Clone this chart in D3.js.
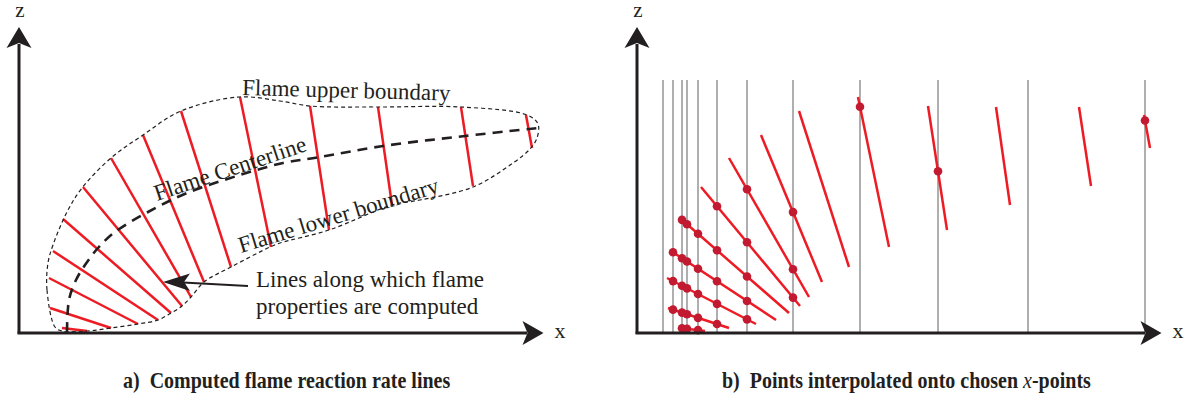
<!DOCTYPE html>
<html>
<head>
<meta charset="utf-8">
<script src="https://cdn.jsdelivr.net/npm/d3@7"></script>
<style>
body{margin:0;background:#fff;}
svg{display:block;}
text{font-family:"Liberation Serif","Times New Roman",serif;fill:#231f20;}
</style>
</head>
<body>
<script>
//flame reaction-rate lines, [x1, z1, x2, z2] in sketch units
var rateLines = [
	[43, 4, 68, 1],
	[31, 24, 92, 4],
	[30, 54, 119, 8],
	[34, 81, 139, 12],
	[44, 113, 152, 19],
	[64, 145, 163, 26],
	[92, 174, 172, 35],
	[124, 197, 185, 50],
	[162, 221, 212, 65],
	[221, 235, 252, 85],
	[291, 226, 310, 102],
	[359, 225, 373, 127],
	[442, 225, 454, 146],
	[507, 217, 513, 184]
];
//closed flame boundary (upper then lower), [x, z]
var boundary = [
	[36, 5], [28, 42], [29, 69], [34, 87], [48, 120], [63, 144], [92, 174],
	[124, 197], [162, 221], [220, 235], [261, 231], [291, 226], [359, 225],
	[442, 225], [508, 217], [519, 208], [518, 194], [511, 183], [494, 169],
	[454, 145], [401, 132], [373, 127], [310, 102], [261, 89], [251, 85],
	[212, 65], [185, 50], [172, 35], [163, 26], [152, 19], [139, 12],
	[119, 8], [92, 4], [68, 1], [43, 1]
];
//flame centerline, [x, z]
var centerline = [
	[48, 0], [50, 32], [57, 52], [66, 67], [79, 84], [96, 100], [129, 120],
	[168, 139], [221, 157], [264, 169], [301, 175], [364, 186], [446, 196], [519, 204]
];
//chosen x-points for panel b
var chosenX = [26, 36, 45, 50, 61, 80, 110, 156, 223, 301, 391, 508];
//caption texts
var captions = ["a)", "Computed flame reaction rate lines", "b)", "Points interpolated onto chosen ", "x", "-points"];

window.onload = function() {
	var w = 1190,
		h = 399;
	var ink = "#231f20",
		red = "#ed1c24",
		dotRed = "#c21a30";

	var svg = d3.select("body")
		.append("svg")
		.attr("width", w)
		.attr("height", h);

	//vertical scale shared by both panels
	var z = d3.scaleLinear()
		.domain([0, 305])
		.range([332, 27]);

	//interpolated points: each rate line crossed with each chosen x
	var dots = [];
	rateLines.forEach(function(l) {
		chosenX.forEach(function(cx) {
			if (cx >= Math.min(l[0], l[2]) && cx <= Math.max(l[0], l[2])) {
				var t = (cx - l[0]) / (l[2] - l[0]);
				dots.push({x: cx, z: l[1] + t * (l[3] - l[1])});
			}
		});
	});

	function drawAxes(g, x) {
		//z axis
		g.append("line")
			.attr("x1", x(0)).attr("y1", z(0) + 1.5)
			.attr("x2", x(0)).attr("y2", z(288))
			.attr("stroke", ink).attr("stroke-width", 3);
		var tx = x(0), ty = z(305);
		g.append("path")
			.attr("d", "M" + tx + "," + ty + "L" + (tx - 12.5) + "," + (ty + 21) +
				"L" + tx + "," + (ty + 16) + "L" + (tx + 12.5) + "," + (ty + 21) + "Z")
			.attr("fill", ink);
		//x axis
		g.append("line")
			.attr("x1", x(-1.5)).attr("y1", z(-1))
			.attr("x2", x(508)).attr("y2", z(-1))
			.attr("stroke", ink).attr("stroke-width", 3);
		var ax = x(524.5), ay = z(-1);
		g.append("path")
			.attr("d", "M" + ax + "," + ay + "L" + (ax - 21) + "," + (ay - 12) +
				"L" + (ax - 16) + "," + ay + "L" + (ax - 21) + "," + (ay + 12) + "Z")
			.attr("fill", ink);
		//axis labels
		g.append("text")
			.attr("x", x(0) + 1).attr("y", 17)
			.attr("text-anchor", "middle")
			.style("font-size", "21px")
			.text("z");
		g.append("text")
			.attr("x", x(541)).attr("y", 338)
			.attr("text-anchor", "middle")
			.style("font-size", "22px")
			.text("x");
	}

	function drawRateLines(g, x) {
		g.selectAll(".rate")
			.data(rateLines)
			.enter()
			.append("line")
			.attr("class", "rate")
			.attr("x1", function(d) { return x(d[0]); })
			.attr("y1", function(d) { return z(d[1]); })
			.attr("x2", function(d) { return x(d[2]); })
			.attr("y2", function(d) { return z(d[3]); })
			.attr("stroke", red)
			.attr("stroke-width", 2.5);
	}

	// ---------- panel a ----------
	var xa = d3.scaleLinear().domain([0, 525]).range([19, 544]);
	var ga = svg.append("g").attr("class", "panel-a");

	drawRateLines(ga, xa);

	var lineA = d3.line()
		.x(function(d) { return xa(d[0]); })
		.y(function(d) { return z(d[1]); });

	ga.append("path")
		.datum(boundary)
		.attr("d", lineA.curve(d3.curveCatmullRomClosed.alpha(0.5)))
		.attr("fill", "none")
		.attr("stroke", ink)
		.attr("stroke-width", 1.2)
		.attr("stroke-dasharray", "4,3");

	ga.append("path")
		.datum(centerline)
		.attr("d", lineA.curve(d3.curveCatmullRom.alpha(0.5)))
		.attr("fill", "none")
		.attr("stroke", ink)
		.attr("stroke-width", 2.6)
		.attr("stroke-dasharray", "10,7");

	//curve labels
	var curveLabels = [
		{t: "Flame upper boundary", x: 223, z: 237, r: 1.5},
		{t: "Flame Centerline", x: 138, z: 131, r: -18.5},
		{t: "Flame lower boundary", x: 222, z: 79, r: -17}
	];
	ga.selectAll(".clabel")
		.data(curveLabels)
		.enter()
		.append("text")
		.attr("class", "clabel")
		.attr("transform", function(d) {
			return "translate(" + xa(d.x) + "," + z(d.z) + ") rotate(" + d.r + ")";
		})
		.style("font-size", "23px")
		.text(function(d) { return d.t; });

	//annotation arrow
	var hx = xa(144), hy = z(50);
	ga.append("line")
		.attr("x1", hx + 20).attr("y1", hy + 0.5)
		.attr("x2", xa(229)).attr("y2", z(46))
		.attr("stroke", ink).attr("stroke-width", 2.2);
	ga.append("path")
		.attr("d", "M" + hx + "," + hy + "L" + (hx + 27) + "," + (hy - 8.5) +
			"L" + (hx + 21) + "," + hy + "L" + (hx + 27) + "," + (hy + 9) + "Z")
		.attr("fill", ink);
	var note = ga.append("text")
		.attr("x", xa(237))
		.attr("y", z(45))
		.style("font-size", "23px");
	note.append("tspan").text("Lines along which flame");
	note.append("tspan").attr("x", xa(237)).attr("dy", 27).text("properties are computed");

	drawAxes(ga, xa);

	// ---------- panel b ----------
	var xb = d3.scaleLinear().domain([0, 525]).range([637, 1162]);
	var gb = svg.append("g").attr("class", "panel-b");

	gb.selectAll(".grid")
		.data(chosenX)
		.enter()
		.append("line")
		.attr("class", "grid")
		.attr("x1", function(d) { return xb(d); })
		.attr("x2", function(d) { return xb(d); })
		.attr("y1", z(0))
		.attr("y2", z(252))
		.attr("stroke", "#7a7a7a")
		.attr("stroke-width", 1.2);

	drawRateLines(gb, xb);

	gb.selectAll(".dot")
		.data(dots)
		.enter()
		.append("circle")
		.attr("class", "dot")
		.attr("cx", function(d) { return xb(d.x); })
		.attr("cy", function(d) { return z(d.z); })
		.attr("r", 4.3)
		.attr("fill", dotRed);

	drawAxes(gb, xb);

	// ---------- captions ----------
	var capA = svg.append("text")
		.attr("transform", "translate(123,388) scale(1,1.15)")
		.style("font-size", "20px")
		.style("font-weight", "bold");
	capA.append("tspan").text(captions[0]);
	capA.append("tspan").attr("dx", 10).text(captions[1]);

	var capB = svg.append("text")
		.attr("transform", "translate(722,388) scale(1,1.15)")
		.style("font-size", "20px")
		.style("font-weight", "bold");
	capB.append("tspan").text(captions[2]);
	capB.append("tspan").attr("dx", 10).text(captions[3]);
	capB.append("tspan").style("font-style", "italic").style("font-weight", "normal").text(captions[4]);
	capB.append("tspan").text(captions[5]);
};
</script>
</body>
</html>
